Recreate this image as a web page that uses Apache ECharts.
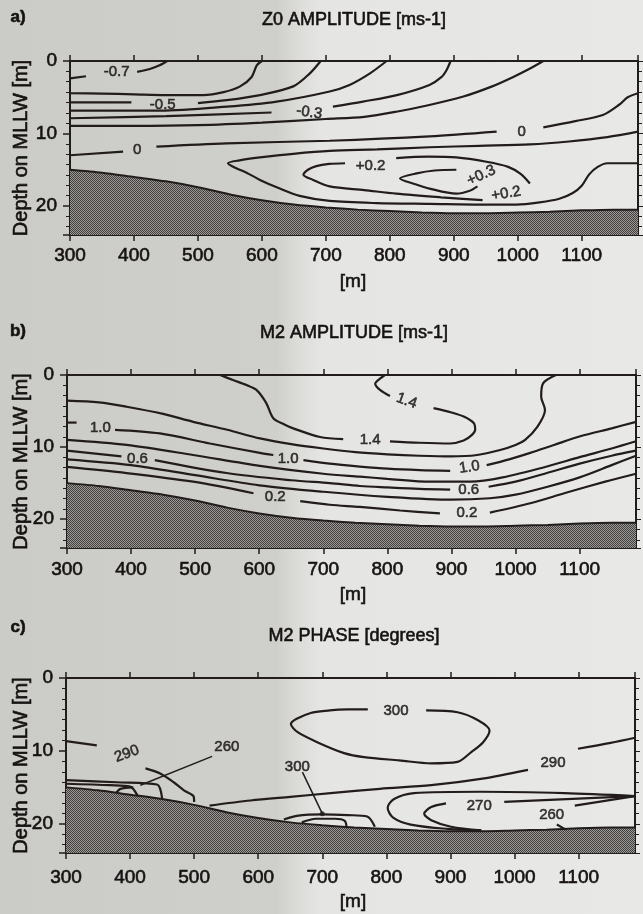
<!DOCTYPE html>
<html><head><meta charset="utf-8">
<script src="https://cdn.jsdelivr.net/npm/echarts/dist/echarts.min.js"></script>
<style>html,body{margin:0;padding:0;background:#dcdcd9}#c{width:643px;height:914px}</style>
</head><body><div id="c"></div>
<script>
// ---------- axis ranges ----------
const X_RANGE = [300, 1188];
const Y_RANGE = [0, 24];
const X_STEP = 100;
const Y_STEP = 10;

// ---------- titles ----------
const PANEL_LETTERS = ['a)', 'b)', 'c)'];
const PANEL_TITLES = ['Z0 AMPLITUDE [ms-1]', 'M2 AMPLITUDE [ms-1]', 'M2 PHASE [degrees]'];
const X_NAME = '[m]';
const Y_NAME = 'Depth on MLLW [m]';

// ---------- bottom (bathymetry) [x m, depth m] ----------
const BATHY = [[300,15.0],[350,15.4],[400,16.0],[450,16.6],[500,17.4],[550,18.4],[600,19.2],[650,19.8],[700,20.2],[750,20.5],[800,20.7],[850,20.9],[900,21.0],[950,21.0],[1000,20.9],[1050,20.8],[1100,20.6],[1150,20.5],[1188,20.5]];

// ---------- panel a : Z0 amplitude contours ----------
const Z0_M07_A = [[300,2.4],[325,2.1]];
const Z0_M07_B = [[405,1.5],[425,1.1],[440,0.6],[452,0]];
const Z0_M06 = [[300,4.45],[350,4.5],[400,4.6],[450,4.7],[508,4.7],[540,4.3],[566,3.5],[584,2.2],[592,0.6],[600,0]];
const Z0_M05_A = [[300,5.7],[396,5.7]];
const Z0_M05_B = [[500,5.8],[545,5.4],[597,4.7],[649,3.5],[675,1.7],[692,0]];
const Z0_M04 = [[300,6.85],[441,6.85],[545,6.3],[623,5.6],[706,4.2],[737,3.3],[769,1.7],[795,0]];
const Z0_M03_A = [[300,7.9],[450,7.6],[615,7.1]];
const Z0_M03_B = [[711,6.3],[758,5.6],[811,4.7],[862,3.3],[881,2.2],[889,1.2],[895,0]];
const Z0_M02 = [[300,8.95],[400,8.95],[500,8.85],[600,8.5],[700,8.0],[760,7.7],[810,7.0],[860,6.1],[915,4.9],[960,3.5],[993,2.2],[1020,1.0],[1040,0]];
const Z0_00_A = [[300,13.0],[383,12.5]];
const Z0_00_B = [[435,11.8],[545,11.35],[706,11.0],[862,10.4],[967,9.75]];
const Z0_00_C = [[1040,9.15],[1090,8.3],[1133,7.45],[1159,6.0],[1172,5.0],[1188,4.45]];
const Z0_P01 = [[1188,9.75],[1140,10.5],[1080,11.1],[1019,11.5],[940,11.7],[862,11.9],[780,12.2],[706,12.4],[649,12.8],[597,13.3],[565,13.7],[547,14.1],[560,14.8],[576,15.4],[597,16.4],[628,17.6],[659,18.6],[706,19.3],[780,19.6],[862,19.7],[950,19.8],[998,19.8],[1034,19.5],[1065,19.0],[1086,18.2],[1100,17.2],[1112,15.6],[1125,14.6],[1140,14.1],[1188,14.1]];
const Z0_P02_A = [[730,14.1],[705,14.2],[685,14.5],[672,15.0],[665,15.7],[680,16.4],[706,17.3],[760,17.8],[810,18.3],[880,18.8],[945,19.2]];
const Z0_P02_B = [[810,13.4],[860,13.2],[904,13.3],[951,13.9],[985,14.6],[1005,15.6],[1019,16.9]];
const Z0_P03 = [[904,15.0],[870,15.1],[842,15.5],[816,16.2],[840,17.0],[862,17.6],[904,18.3],[925,17.9],[937,17.3]];
const Z0_LINES = [Z0_M07_A, Z0_M07_B, Z0_M06, Z0_M05_A, Z0_M05_B, Z0_M04, Z0_M03_A, Z0_M03_B, Z0_M02, Z0_00_A, Z0_00_B, Z0_00_C, Z0_P01, Z0_P02_A, Z0_P02_B, Z0_P03];
const Z0_LABELS = [['-0.7',373,1.5],['-0.5',445,6.1],['-0.3',674,7.1],['0',405,12.3],['0',1006,9.75],['+0.2',770,14.4],['+0.3',943,15.8],['+0.2',982,18.3]];

// ---------- panel b : M2 amplitude contours ----------
const M2A_14_A = [[539,0],[559,0.7],[580,1.4],[596,2.1],[611,3.9],[622,6.0],[640,6.9],[653,7.4],[695,8.6],[731,8.9]];
const M2A_14_B = [[804,9.2],[850,9.4],[898,9.5],[919,9.1],[932,8.3],[937,7.6],[935,6.7],[920,5.8],[900,5.2],[872,4.6]];
const M2A_14_C = [[804,2.9],[789,2.1],[781,1.2],[790,0.4],[796,0]];
const M2A_12 = [[300,3.55],[350,3.8],[393,4.4],[450,5.4],[497,6.5],[550,7.6],[601,8.8],[650,9.6],[700,10.2],[750,10.7],[800,11.0],[850,11.2],[899,11.3],[940,11.1],[976,10.4],[1000,9.7],[1015,9.0],[1034,7.2],[1046,4.85],[1040,3.0],[1043,1.15],[1063,0]];
const M2A_10_A = [[300,6.6],[315,6.6]];
const M2A_10_B = [[375,7.6],[445,8.1],[523,9.5],[601,10.8],[622,11.1]];
const M2A_10_C = [[669,11.8],[710,12.3],[757,12.7],[800,13.0],[850,13.2],[898,13.3]];
const M2A_10_D = [[955,12.5],[990,11.7],[1023,10.8],[1060,9.7],[1101,8.5],[1150,7.4],[1188,6.5]];
const M2A_08 = [[300,9.0],[393,9.7],[497,11.1],[601,12.6],[700,13.7],[757,14.1],[800,14.4],[867,14.8],[930,14.8],[980,14.2],[1049,12.7],[1100,11.4],[1150,10.2],[1188,9.2]];
const M2A_06_A = [[300,10.5],[385,11.3]];
const M2A_06_B = [[437,11.8],[549,13.6],[650,14.6],[710,15.0],[757,15.4],[800,15.6],[850,15.8],[898,15.9]];
const M2A_06_C = [[958,15.5],[1000,14.8],[1049,13.6],[1100,12.3],[1150,11.2],[1188,10.5]];
const M2A_04 = [[300,11.7],[400,12.5],[500,13.9],[600,15.3],[700,16.2],[800,16.9],[900,17.3],[960,17.1],[1000,16.6],[1050,15.5],[1100,14.2],[1150,12.5],[1188,11.2]];
const M2A_02_A = [[300,12.75],[393,13.6],[497,14.8],[591,16.4]];
const M2A_02_B = [[664,17.5],[710,18.0],[757,18.3],[820,18.8],[882,19.2]];
const M2A_02_C = [[960,19.1],[1023,17.8],[1080,16.3],[1140,14.8],[1188,13.7]];
const M2A_LINES = [M2A_14_A, M2A_14_B, M2A_14_C, M2A_12, M2A_10_A, M2A_10_B, M2A_10_C, M2A_10_D, M2A_08, M2A_06_A, M2A_06_B, M2A_06_C, M2A_04, M2A_02_A, M2A_02_B, M2A_02_C];
const M2A_LABELS = [['1.4',830,3.6],['1.4',773,9.0],['1.0',352,7.3],['1.0',645,11.6],['1.0',928,12.8],['0.6',410,11.6],['0.6',927,15.9],['0.2',625,16.9],['0.2',924,19.1]];

// ---------- panel c : M2 phase contours ----------
const M2P_290L_A = [[300,8.65],[348,9.25]];
const M2P_290L_B = [[424,12.4],[447,13.1],[468,14.3],[484,15.4],[499,16.2],[500,17.0]];
const M2P_300 = [[771,4.3],[740,4.3],[705,4.5],[682,4.8],[660,5.6],[651,6.3],[661,7.4],[692,8.8],[734,10.3],[765,10.85],[820,11.3],[870,11.7],[911,11.5],[932,10.2],[951,8.8],[961,7.2],[943,5.8],[911,4.7],[862,4.45]];
const M2P_290R_A = [[524,17.5],[588,16.8],[650,16.3],[713,15.8],[790,15.2],[870,14.7],[950,13.8],[1021,12.6]];
const M2P_290R_B = [[1099,9.7],[1150,8.9],[1188,8.2]];
const M2P_280 = [[1188,16.2],[1078,15.8],[948,15.6],[843,15.8],[812,16.6],[802,17.8],[810,19.1],[838,20.1],[896,20.7],[948,20.9]];
const M2P_270_A = [[948,20.9],[901,20.4],[870,19.5],[859,18.6],[870,17.7],[893,17.2]];
const M2P_270_B = [[984,17.0],[1188,16.2]];
const M2P_260_A = [[1080,20.8],[1066,20.1]];
const M2P_260_B = [[1094,17.5],[1188,16.2]];
const M2P_S1 = [[300,14.0],[379,14.3],[442,14.6],[450,16.5]];
const M2P_S2 = [[300,14.5],[369,14.7],[400,14.9],[412,16.2]];
const M2P_S3 = [[378,15.8],[385,15.2],[405,15.0]];
const M2P_S4 = [[640,19.4],[660,18.9],[700,18.7],[740,18.8],[770,19.0],[782,20.4]];
const M2P_S5 = [[668,19.8],[690,19.3],[720,19.3],[735,19.6],[738,20.6]];
const M2P_LEAD_260 = [[528,10.75],[416,14.7]];
const M2P_LEAD_300 = [[669,12.9],[700,18.6]];
const M2P_LINES = [M2P_290L_A, M2P_290L_B, M2P_300, M2P_290R_A, M2P_290R_B, M2P_280, M2P_270_A, M2P_270_B, M2P_260_A, M2P_260_B, M2P_S1, M2P_S2, M2P_S3, M2P_S4, M2P_S5];
const M2P_LEADERS = [M2P_LEAD_260, M2P_LEAD_300];
const M2P_LABELS = [['290',395,10.4],['260',551,9.5],['300',661,12.2],['300',815,4.5],['290',1060,11.7],['270',945,17.6],['260',1058,18.8]];

// ---------- styles (kept separate from data) ----------
const ROT = {a:[0,0,-8,0,0,0,25,10], b:[-20,0,0,0,8,0,0,0,0], c:[20,0,0,0,0,0,0]};
const GRIDS = [
  {left:70, top:61, width:568, height:174},
  {left:67, top:375, width:569, height:173},
  {left:66, top:678, width:569, height:175}
];
const XLABEL_MARGIN = [11, 12, 15];
const TITLE_Y = [20, 333, 636];
const LETTER_Y = [17, 331, 627];
const XNAME_Y = [282, 595, 902];
const INK = '#231c1c';
const TXT = '#161212';
const FONT = '"Liberation Sans", Arial, Helvetica, sans-serif';
const THICK = {textBorderColor:TXT, textBorderWidth:0.6};

// stipple pattern for the sea bed
const pat = document.createElement('canvas');
pat.width = 4; pat.height = 4;
const pg = pat.getContext('2d');
pg.fillStyle = '#9c9b98'; pg.fillRect(0,0,4,4);
pg.fillStyle = '#423e3e';
for (let yy = 0; yy < 4; yy++) for (let xx = 0; xx < 4; xx++) if ((xx + yy) % 2 === 0) pg.fillRect(xx, yy, 1, 1);

const chart = echarts.init(document.getElementById('c'), null, {renderer:'canvas'});

const xAxes = [], yAxes = [], series = [];
const axisLine = {show:true, onZero:false, lineStyle:{color:INK, width:2}};
for (let p = 0; p < 3; p++) {
  const base = {type:'value', gridIndex:p, min:X_RANGE[0], max:X_RANGE[1], interval:X_STEP,
    axisLine, splitLine:{show:false}, axisTick:{show:true, length:6, lineStyle:{color:INK, width:1.5}}};
  xAxes.push(Object.assign({}, base, {position:'bottom',
    axisLabel:Object.assign({show:true, fontSize:19, color:TXT, fontFamily:FONT, margin:XLABEL_MARGIN[p], showMaxLabel:false,
      formatter: v => (v % 100 === 0 ? String(v) : '')}, THICK)}));
  xAxes.push(Object.assign({}, base, {position:'top', axisLabel:{show:false}}));
  const ybase = {type:'value', gridIndex:p, inverse:true, min:Y_RANGE[0], max:Y_RANGE[1], interval:Y_STEP,
    axisLine, splitLine:{show:false},
    axisTick:{show:true, length:7, lineStyle:{color:INK, width:1.5}},
    minorTick:{show:true, splitNumber:7, length:4, lineStyle:{color:INK, width:1}}};
  yAxes.push(Object.assign({}, ybase, {position:'left',
    axisLabel:Object.assign({show:true, fontSize:19, color:TXT, fontFamily:FONT, margin:13, showMaxLabel:false,
      formatter: v => (v % 10 === 0 ? String(v) : '')}, THICK)}));
  yAxes.push(Object.assign({}, ybase, {position:'right', axisLabel:{show:false},
    axisTick:{show:true, length:5, lineStyle:{color:INK, width:1}}}));
}

function bathySeries(p) {
  return {type:'line', xAxisIndex:2*p, yAxisIndex:2*p, data:BATHY, symbol:'none', smooth:0.25,
    lineStyle:{color:INK, width:2}, areaStyle:{color:{image:pat, repeat:'repeat'}, origin:'end', opacity:1},
    z:3, silent:true, animation:false};
}
function contour(p, data, smooth) {
  return {type:'line', xAxisIndex:2*p, yAxisIndex:2*p, data, symbol:'none', smooth: smooth === undefined ? 0.3 : smooth,
    lineStyle:{color:INK, width:2.2}, z:5, silent:true, animation:false};
}
function labels(p, list, rot) {
  return {type:'scatter', xAxisIndex:2*p, yAxisIndex:2*p, symbolSize:1, itemStyle:{color:'transparent'},
    data:list.map((l, i) => ({name:l[0], value:[l[1], l[2]], label:{rotate: rot[i] || 0}})),
    label:Object.assign({show:true, position:'inside', formatter:'{b}', fontSize:15, color:TXT, fontFamily:FONT}, THICK),
    z:6, silent:true, animation:false};
}

const PANEL_LINES = [Z0_LINES, M2A_LINES, M2P_LINES];
const PANEL_LABELS = [Z0_LABELS, M2A_LABELS, M2P_LABELS];
const PANEL_ROT = [ROT.a, ROT.b, ROT.c];
for (let p = 0; p < 3; p++) {
  series.push(bathySeries(p));
  PANEL_LINES[p].forEach(d => series.push(contour(p, d)));
  series.push(labels(p, PANEL_LABELS[p], PANEL_ROT[p]));
}
M2P_LEADERS.forEach(d => {
  const s = contour(2, d, 0);
  s.lineStyle = {color:INK, width:1.5};
  series.push(s);
});
series.push({type:'scatter', xAxisIndex:4, yAxisIndex:4, data:[M2P_LEAD_300[1]], symbolSize:5,
  itemStyle:{color:INK}, z:6, silent:true, animation:false});

const graphic = [{type:'rect', z:-100, silent:true, shape:{x:0, y:0, width:643, height:914},
  style:{fill:{type:'linear', x:0, y:0, x2:1, y2:0, colorStops:[
    {offset:0, color:'#cbcbc7'}, {offset:0.43, color:'#cfcfcb'}, {offset:0.465, color:'#dcdcd9'},
    {offset:0.5, color:'#e5e5e3'}, {offset:1, color:'#e8e9e7'}]}}}];
for (let p = 0; p < 3; p++) {
  const g = GRIDS[p];
  const ts = (txt, font) => Object.assign({text:txt, font:font, fill:TXT, textAlign:'center', textVerticalAlign:'middle',
    stroke:TXT, lineWidth:0.6});
  graphic.push({type:'text', x:18, y:LETTER_Y[p], z:100, silent:true, style:ts(PANEL_LETTERS[p], 'bold 17px ' + FONT)});
  graphic.push({type:'text', x:354, y:TITLE_Y[p], z:100, silent:true, style:ts(PANEL_TITLES[p], '18px ' + FONT)});
  graphic.push({type:'text', x:353, y:XNAME_Y[p], z:100, silent:true, style:ts(X_NAME, '19px ' + FONT)});
  graphic.push({type:'text', x:21, y:g.top + g.height / 2, rotation:Math.PI / 2, z:100, silent:true,
    style:ts(Y_NAME, '20px ' + FONT)});
}

chart.setOption({
  animation:false,
  backgroundColor:'transparent',
  grid:GRIDS.map(g => Object.assign({containLabel:false}, g)),
  xAxis:xAxes,
  yAxis:yAxes,
  series,
  graphic
});
</script></body></html>
